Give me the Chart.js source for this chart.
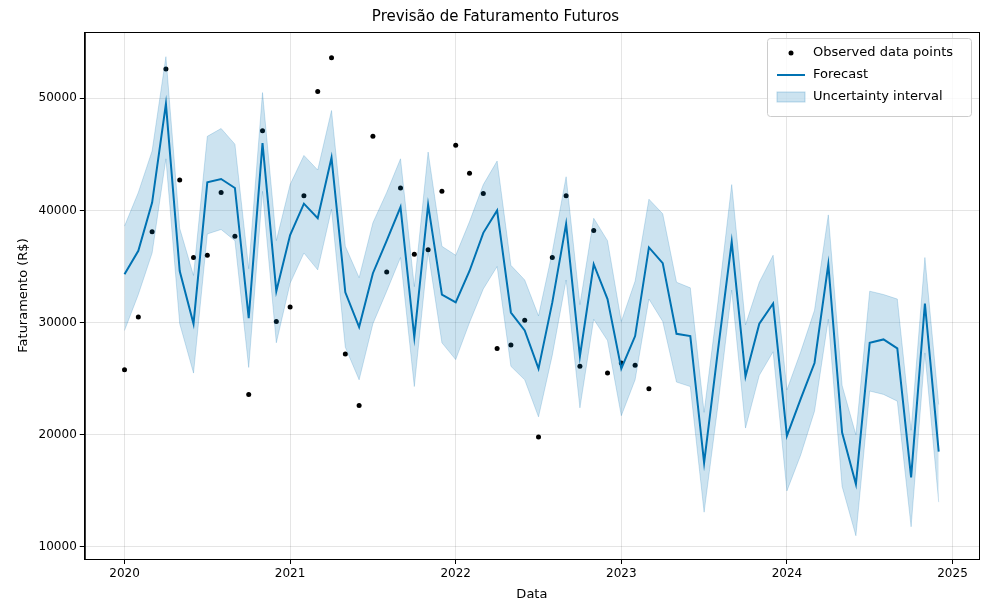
<!DOCTYPE html>
<html><head><meta charset="utf-8">
<script src="https://cdn.jsdelivr.net/npm/chart.js@4"></script>
<style>html,body{margin:0;background:#fff}#w{width:989px;height:612px}</style>
</head><body><div id="w"><canvas id="c"></canvas></div>
<script>
const forecastStart = [2020, 1]; // Jan 2020, monthly
const yhat = [34300,36400,40700,49500,34600,29900,42500,42800,42000,30400,46000,32800,
 37800,40600,39300,44700,32700,29600,34400,37300,40300,28700,40500,32500,
 31800,34600,38000,40000,30900,29300,25900,31800,38800,27000,35200,32100,
 25900,28800,36700,35300,29000,28800,17500,27500,37200,25200,29900,31700,
 19900,23200,26400,35200,20200,15600,28200,28500,27700,16200,31700,18500];
const upper = [38600,41600,45300,53700,38400,34200,46600,47300,45900,34800,50500,37300,
 42300,44900,43600,48900,36800,34000,38900,41600,44600,33200,45200,36800,
 36000,39000,42300,44400,35100,33800,30600,36300,43000,31600,39300,37300,
 30100,33700,41000,39700,33600,33100,22000,31800,42300,29800,33600,36000,
 24000,27400,31100,39600,24400,20000,32800,32500,32100,20400,35800,22700];
const lower = [29300,32500,36200,44600,29900,25500,37900,38300,37300,26000,41700,28200,
 33500,36200,34700,40100,27800,24900,29900,32800,35800,24300,36300,28200,
 26700,30000,33000,35000,26100,24900,21600,27100,33800,22400,30300,28400,
 21700,24900,32100,30100,24700,24300,13100,22600,32900,20600,25300,27400,
 15000,18200,22100,30300,15400,11000,23900,23600,23000,11800,27300,14000];
const observed = [25800,30500,38100,52600,42700,35800,36000,41600,37700,23600,47100,30100,
 31400,41300,50600,53600,27200,22600,46600,34500,42000,36100,36500,41700,
 45800,43300,41500,27700,28000,30200,19800,35800,41300,26100,38200,25500,
 26400,26200,24100];
const xTicks = [2020,2021,2022,2023,2024,2025];
const yTicks = [10000,20000,30000,40000,50000];

const t = i => forecastStart[0] + (forecastStart[1]-1+i)/12;
const pts = a => a.map((v,i)=>({x:t(i),y:v}));
const band = 'rgba(0,114,178,0.2)';

const legendPlugin = {id:'lg', afterDraw(ch){
  const c=ch.ctx, a=ch.chartArea;
  c.save(); c.strokeStyle='#000'; c.lineWidth=1; c.strokeRect(a.left+0.5,a.top+0.5,a.right-a.left,a.bottom-a.top);
  const w=204,h=78,x=a.right-w-8,y=a.top+6;
  c.fillStyle='rgba(255,255,255,0.8)'; c.strokeStyle='#ccc'; c.lineWidth=1;
  c.beginPath(); c.roundRect(x+0.5,y+0.5,w,h,3); c.fill(); c.stroke();
  c.font='13px "DejaVu Sans"'; c.fillStyle='#000'; c.textBaseline='middle';
  const rows=[y+15,y+37,y+59];
  c.beginPath(); c.arc(x+24,rows[0],2.5,0,7); c.fill();
  c.strokeStyle='#0072B2'; c.lineWidth=2; c.beginPath(); c.moveTo(x+10,rows[1]); c.lineTo(x+38,rows[1]); c.stroke();
  c.fillStyle=band; c.fillRect(x+10,rows[2]-5,28,10); c.strokeStyle='rgba(0,114,178,0.25)'; c.lineWidth=1; c.strokeRect(x+10,rows[2]-5,28,10);
  c.fillStyle='#000';
  ['Observed data points','Forecast','Uncertainty interval'].forEach((s,i)=>c.fillText(s,x+46,rows[i]));
  c.restore();
}};

new Chart(document.getElementById('c'),{
  type:'scatter',
  data:{datasets:[
    {data:pts(upper),showLine:true,fill:'+1',backgroundColor:band,borderColor:'rgba(0,114,178,0.2)',borderWidth:1,pointRadius:0,tension:0},
    {data:pts(lower),showLine:true,fill:false,borderColor:'rgba(0,114,178,0.2)',borderWidth:1,pointRadius:0,tension:0},
    {data:pts(yhat),showLine:true,fill:false,borderColor:'#0072B2',borderWidth:2,pointRadius:0,tension:0},
    {data:pts(observed),showLine:false,pointRadius:2.5,backgroundColor:'#000',borderColor:'#000',pointBorderWidth:0}
  ]},
  options:{responsive:true,maintainAspectRatio:false,animation:false,
    layout:{padding:{left:12,right:10,top:4,bottom:6}},
    plugins:{legend:{display:false},tooltip:{enabled:false},
      title:{display:true,text:'Previsão de Faturamento Futuros',color:'#000',font:{family:'DejaVu Sans',size:15,weight:'normal'},padding:{top:4,bottom:6}}},
    scales:{
      x:{type:'linear',min:2019.76,max:2025.16,
        afterBuildTicks:s=>{s.ticks=xTicks.map(v=>({value:v}));},
        ticks:{color:'#000',font:{family:'DejaVu Sans',size:12},callback:v=>String(v)},
        grid:{color:'rgba(0,0,0,0.1)',tickColor:'#000',tickLength:5},border:{color:'#000'},
        title:{display:true,text:'Data',color:'#000',font:{family:'DejaVu Sans',size:13},padding:{top:2}}},
      y:{min:8930,max:55900,
        afterBuildTicks:s=>{s.ticks=yTicks.map(v=>({value:v}));},
        ticks:{color:'#000',font:{family:'DejaVu Sans',size:12},callback:v=>String(v)},
        grid:{color:'rgba(0,0,0,0.1)',tickColor:'#000',tickLength:5},border:{color:'#000'},
        title:{display:true,text:'Faturamento (R$)',color:'#000',font:{family:'DejaVu Sans',size:13}}}
    }},
  plugins:[legendPlugin]
});
</script></body></html>
